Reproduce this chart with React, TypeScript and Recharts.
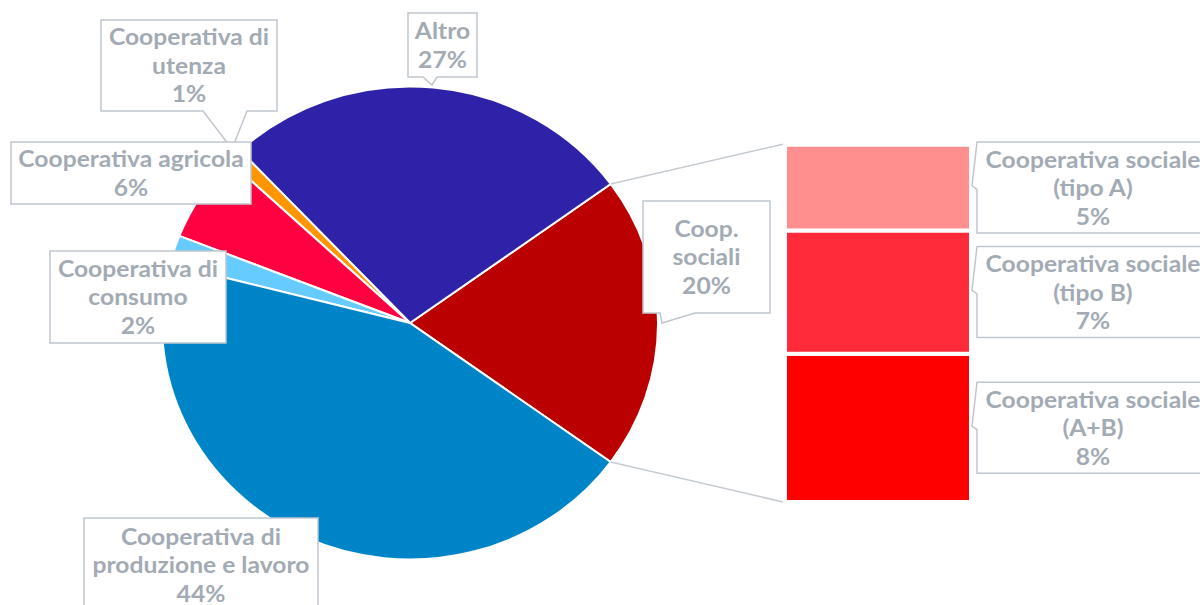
import React from 'react';
import { PieChart, Pie, Cell, BarChart, Bar, XAxis, YAxis } from 'recharts';

// ---- data ----
const CATEGORIES = [
  'Coop. sociali',
  'Altro',
  'Cooperativa di utenza',
  'Cooperativa agricola',
  'Cooperativa di consumo',
  'Cooperativa di produzione e lavoro',
];
const SHARES = [20, 27, 1, 6, 2, 44];
const CATEGORY_LINES = [
  ['Coop.', 'sociali'],
  ['Altro'],
  ['Cooperativa di', 'utenza'],
  ['Cooperativa agricola'],
  ['Cooperativa di', 'consumo'],
  ['Cooperativa di', 'produzione e lavoro'],
];

const SUB_CATEGORIES = [
  'Cooperativa sociale (tipo A)',
  'Cooperativa sociale (tipo B)',
  'Cooperativa sociale (A+B)',
];
const SUB_SHARES = [4.8, 6.9, 8.3];
const SUB_LINES = [
  ['Cooperativa sociale', '(tipo A)'],
  ['Cooperativa sociale', '(tipo B)'],
  ['Cooperativa sociale', '(A+B)'],
];

// ---- styles ----
const PIE_COLORS = ['#BA0000', '#2E22A8', '#FF9500', '#FF0040', '#66CCFF', '#0084C8'];
const SUB_COLORS = ['#FF8F8F', '#FF2A3A', '#FF0000'];
const TEXT_COLOR = '#A2ABB4';
const BORDER_COLOR = '#BFC6CD';
const FONT = 'Lato, "Open Sans", sans-serif';
const FONT_SIZE = 23.5;
const LINE_H = 28.5;
const STRETCH_X = 1.049;
const PIE_CX = 410;
const PIE_CY = 323;
const PIE_R = 236.5;

// callout layout for pie labels (same order as CATEGORIES)
const PIE_LABEL_LAYOUT: any[] = [
  { x: 643, y: 201, w: 127, h: 112, tail: [[695, 313], [662, 323], [660, 313]] },
  { x: 408, y: 13, w: 69, h: 64, tail: [[437, 77], [432, 85], [423, 77]] },
  { x: 101, y: 20, w: 176, h: 91, tail: [[247, 111], [232, 149], [203, 111]] },
  { x: 11, y: 142, w: 240, h: 62, tail: null },
  { x: 50, y: 251, w: 176, h: 92, tail: null },
  { x: 84, y: 518, w: 234, h: 94, tail: null },
];

// bar of pie layout
const BAR_LEFT = 787;
const BAR_TOP = 146.7;
const BAR_BOTTOM = 500;
const BAR_RIGHT = 969;

const pieData = CATEGORIES.map((name, i) => ({ name, value: SHARES[i] }));
const barData = [
  {
    name: CATEGORIES[0],
    a: SUB_SHARES[0],
    b: SUB_SHARES[1],
    ab: SUB_SHARES[2],
  },
];

const css = `
.pie-wrap path.recharts-sector {
  transform-box: view-box;
  transform-origin: ${PIE_CX}px ${PIE_CY}px;
  transform: scaleX(${STRETCH_X});
}
`;

function textBlock(lines: string[], cx: number, midY: number, key: string) {
  const n = lines.length;
  return (
    <g key={key} transform={`translate(${cx},0) scale(${STRETCH_X},1) translate(${-cx},0)`}>
      {lines.map((t, i) => {
        const lineCenter = midY + (i - (n - 1) / 2) * LINE_H;
        return (
          <text
            key={key + i}
            x={cx}
            y={lineCenter + FONT_SIZE * 0.36}
            textAnchor="middle"
            fontFamily={FONT}
            fontWeight={700}
            fontSize={FONT_SIZE}
            fill={TEXT_COLOR}
          >
            {t}
          </text>
        );
      })}
    </g>
  );
}

function calloutPath(L: any) {
  const { x, y, w, h, tail } = L;
  let d = `M${x},${y} H${x + w} V${y + h}`;
  if (tail) {
    d += ` H${tail[0][0]} L${tail[1][0]},${tail[1][1]} L${tail[2][0]},${tail[2][1]}`;
  }
  d += ` H${x} Z`;
  return d;
}

const renderPieLabel = (props: any) => {
  const i = props.index;
  const L = PIE_LABEL_LAYOUT[i];
  if (!L) return null;
  const lines = [...CATEGORY_LINES[i], `${Math.round(SHARES[i])}%`];
  const els: any[] = [];
  if (i === 0) {
    const cx = props.cx;
    const cy = props.cy;
    const r = props.outerRadius;
    const half = (props.percent ?? SHARES[0] / 100) * 180;
    const mid = props.midAngle ?? 0;
    const a1 = ((mid + half) * Math.PI) / 180;
    const a2 = ((mid - half) * Math.PI) / 180;
    const p1 = [cx + r * STRETCH_X * Math.cos(a1), cy - r * Math.sin(a1)];
    const p2 = [cx + r * STRETCH_X * Math.cos(a2), cy - r * Math.sin(a2)];
    els.push(
      <line key="c1" x1={p1[0]} y1={p1[1]} x2={BAR_LEFT - 4} y2={BAR_TOP - 2.5} stroke="#C5CBD1" strokeWidth={1.5} />,
      <line key="c2" x1={p2[0]} y1={p2[1]} x2={BAR_LEFT - 4} y2={BAR_BOTTOM + 2} stroke="#C5CBD1" strokeWidth={1.5} />
    );
  }
  return (
    <g key={'lbl' + i}>
      {els}
      <path d={calloutPath(L)} fill="#fff" stroke={BORDER_COLOR} strokeWidth={1.5} />
      {textBlock(lines, L.x + L.w / 2, L.y + L.h / 2, 'pl' + i)}
    </g>
  );
};

const makeBarLabel = (k: number) => (props: any) => {
  const { x, y, width, height } = props;
  const bx = x + width + 6;
  const bh = 91;
  const by = y + height / 2 - bh / 2;
  const bw = 260;
  const d = `M${bx},${by} H${bx + bw} V${by + bh} H${bx} V${by + bh * 0.52} L${bx - 5},${by + bh * 0.48} Z`;
  const lines = [...SUB_LINES[k], `${Math.round(SUB_SHARES[k])}%`];
  return (
    <g key={'bl' + k}>
      <path d={d} fill="#fff" stroke={BORDER_COLOR} strokeWidth={1.5} />
      {textBlock(lines, bx + 116, by + bh / 2, 'bt' + k)}
    </g>
  );
};

export default function App() {
  const overlayLeft = 600;
  return (
    <div
      style={{
        position: 'absolute',
        left: 0,
        top: 0,
        width: 1200,
        height: 605,
        overflow: 'hidden',
        background: '#fff',
        fontFamily: FONT,
      }}
    >
      <style>{css}</style>
      <div className="pie-wrap" style={{ position: 'absolute', left: 0, top: 0 }}>
        <PieChart width={1200} height={605} margin={{ top: 0, right: 0, bottom: 0, left: 0 }}>
          <Pie
            data={pieData}
            dataKey="value"
            nameKey="name"
            cx={PIE_CX}
            cy={PIE_CY}
            outerRadius={PIE_R}
            startAngle={-36}
            endAngle={324}
            stroke="#fff"
            strokeWidth={2}
            label={renderPieLabel}
            labelLine={false}
            isAnimationActive={false}
          >
            {pieData.map((d, i) => (
              <Cell key={d.name} fill={PIE_COLORS[i]} />
            ))}
          </Pie>
        </PieChart>
      </div>
      <div style={{ position: 'absolute', left: overlayLeft, top: 0 }}>
        <BarChart
          width={600}
          height={605}
          data={barData}
          barCategoryGap={0}
          margin={{
            left: BAR_LEFT - 2 - overlayLeft,
            right: 1200 - (BAR_RIGHT + 2),
            top: BAR_TOP - 2,
            bottom: 605 - (BAR_BOTTOM + 2),
          }}
        >
          <XAxis dataKey="name" type="category" hide />
          <YAxis type="number" domain={[0, 'dataMax']} hide />
          <Bar dataKey="ab" stackId="s" fill={SUB_COLORS[2]} stroke="#fff" strokeWidth={4} isAnimationActive={false} label={makeBarLabel(2)} />
          <Bar dataKey="b" stackId="s" fill={SUB_COLORS[1]} stroke="#fff" strokeWidth={4} isAnimationActive={false} label={makeBarLabel(1)} />
          <Bar dataKey="a" stackId="s" fill={SUB_COLORS[0]} stroke="#fff" strokeWidth={4} isAnimationActive={false} label={makeBarLabel(0)} />
        </BarChart>
      </div>
    </div>
  );
}
